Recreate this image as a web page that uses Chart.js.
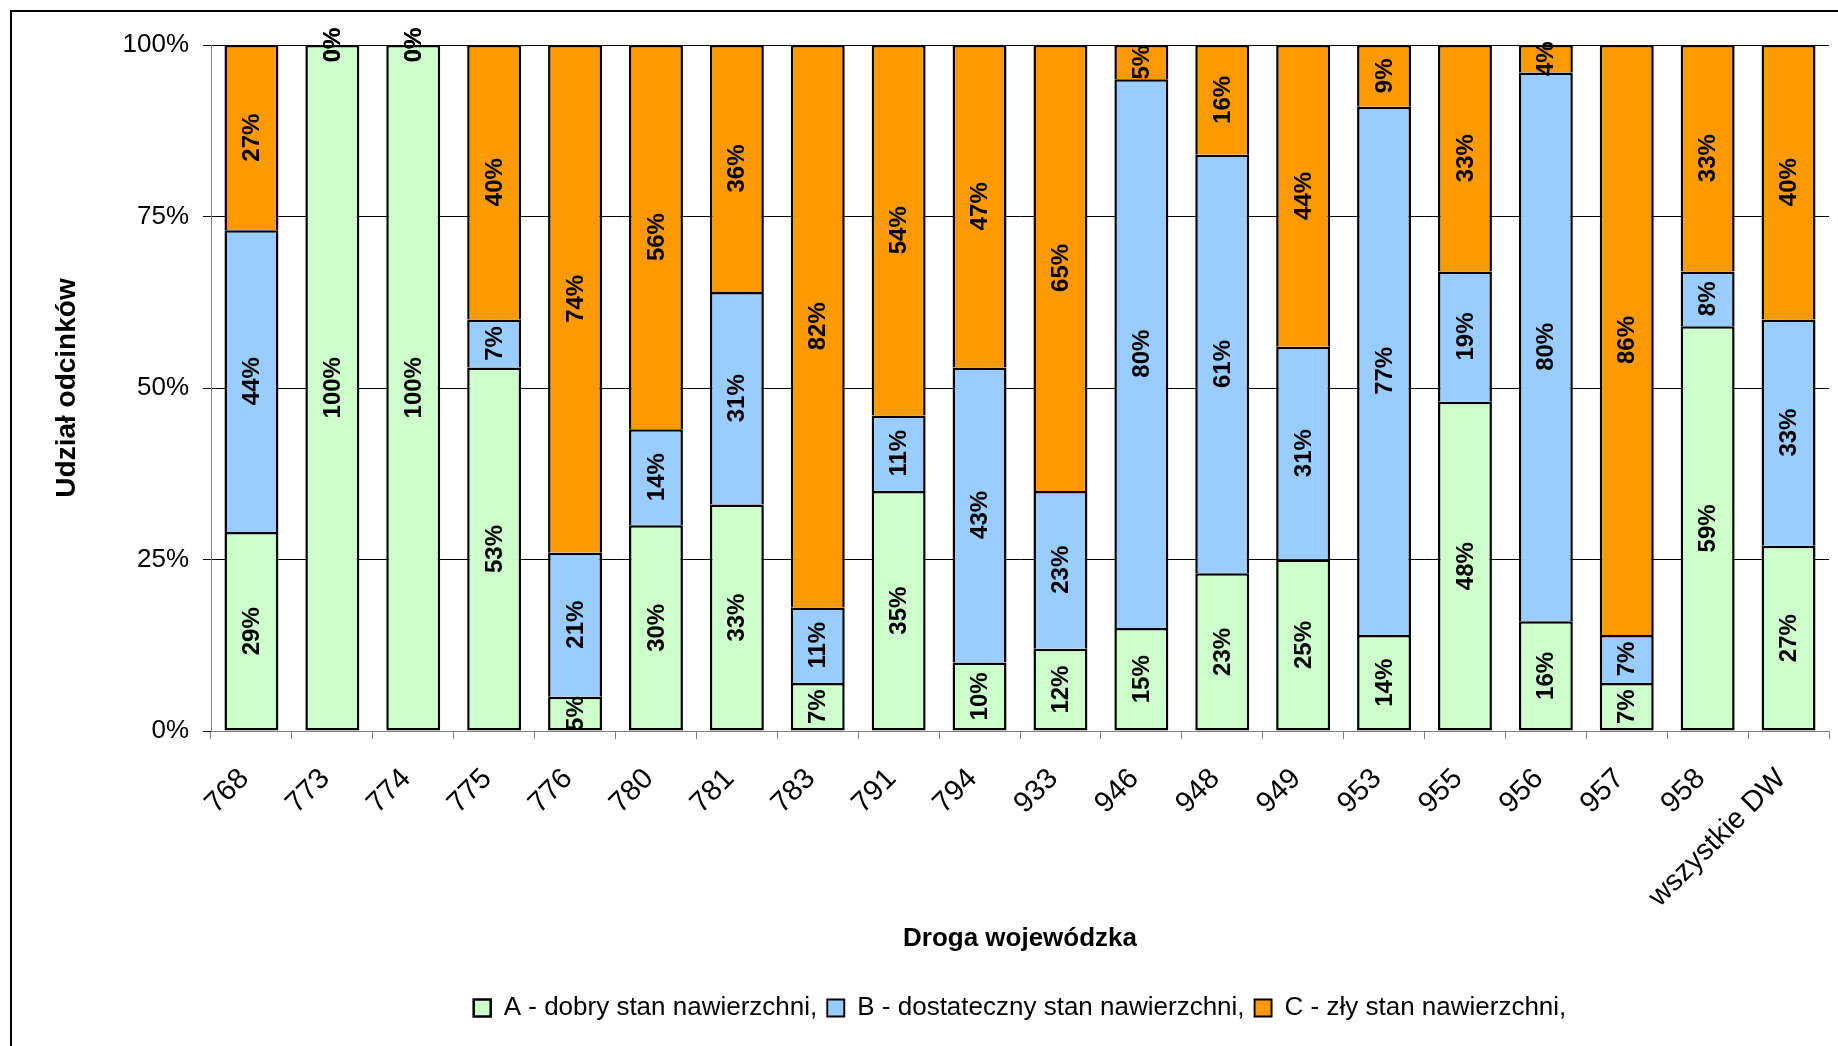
<!DOCTYPE html>
<html lang="pl">
<head>
<meta charset="utf-8">
<title>Udział odcinków według stanu nawierzchni</title>
<script src="https://cdn.jsdelivr.net/npm/chart.js@4/dist/chart.umd.min.js"></script>
<style>
  html, body { margin: 0; padding: 0; background: #fff; overflow: hidden; }
  #wrap { position: relative; width: 1838px; height: 1046px; }
  #chart { position: absolute; left: 0; top: 0; }
  #frame { position: absolute; left: 10px; top: 10px; width: 1900px; height: 1100px;
           border-left: 2px solid #000; border-top: 2px solid #000; pointer-events: none; }
</style>
</head>
<body>
<div id="wrap">
  <canvas id="chart" width="1838" height="1046"></canvas>
  <div id="frame"></div>
</div>
<script>
// Drogi wojewódzkie
const roads = ['768', '773', '774', '775', '776', '780', '781', '783', '791', '794',
               '933', '946', '948', '949', '953', '955', '956', '957', '958', 'wszystkie DW'];

// Udział odcinków [%] w poszczególnych klasach stanu nawierzchni
const goodShare = [29, 100, 100, 53,  5, 30, 33,  7, 35, 10, 12, 15, 23, 25, 14, 48, 16,  7, 59, 27];
const fairShare = [44,   0,   0,  7, 21, 14, 31, 11, 11, 43, 23, 80, 61, 31, 77, 19, 80,  7,  8, 33];
const poorShare = [27,   0,   0, 40, 74, 56, 36, 82, 54, 47, 65,  5, 16, 44,  9, 33,  4, 86, 33, 40];

const seriesNames = ['A - dobry stan nawierzchni,', 'B - dostateczny stan nawierzchni,', 'C - zły stan nawierzchni,'];

// Podziałka osi Y
const yTickValues = [0, 25, 50, 75, 100];
const yTickLabels = ['0%', '25%', '50%', '75%', '100%'];

const FONT = "'Liberation Sans', Arial, Helvetica, sans-serif";
Chart.defaults.font.family = FONT;
Chart.defaults.color = '#000';

// Etykiety wartości wpisane pionowo w środek każdego segmentu słupka
const segmentLabels = {
  id: 'segmentLabels',
  afterDatasetsDraw(chart) {
    const ctx = chart.ctx;
    ctx.save();
    ctx.font = 'bold 24px ' + FONT;
    ctx.fillStyle = '#000';
    ctx.textAlign = 'center';
    ctx.textBaseline = 'middle';
    chart.data.datasets.forEach((ds, i) => {
      const meta = chart.getDatasetMeta(i);
      meta.data.forEach((bar, j) => {
        const v = ds.data[j];
        const cy = (bar.y + bar.base) / 2;
        ctx.save();
        ctx.translate(bar.x, cy);
        ctx.rotate(-Math.PI / 2);
        ctx.fillText(v + '%', 0, 1);
        ctx.restore();
      });
    });
    ctx.restore();
  }
};

const outline = (bottom) => ({ top: 2.5, right: 2.5, bottom: bottom, left: 2.5 });

new Chart(document.getElementById('chart'), {
  type: 'bar',
  data: {
    labels: roads,
    datasets: [
      { label: seriesNames[0], data: goodShare, backgroundColor: '#CCFFCC', borderColor: '#000',
        borderWidth: outline(2.5), borderSkipped: false },
      { label: seriesNames[1], data: fairShare, backgroundColor: '#99CCFF', borderColor: '#000',
        borderWidth: outline(0), borderSkipped: false },
      { label: seriesNames[2], data: poorShare, backgroundColor: '#FF9900', borderColor: '#000',
        borderWidth: outline(0), borderSkipped: false }
    ]
  },
  options: {
    responsive: false,
    animation: false,
    layout: { padding: { left: 0, top: 45, right: 9, bottom: 15 } },
    datasets: { bar: { barPercentage: 0.667, categoryPercentage: 1 } },
    plugins: {
      tooltip: { enabled: false },
      legend: {
        position: 'bottom',
        fullSize: false,
        labels: { font: { size: 26 }, color: '#000', boxWidth: 17, boxHeight: 17, padding: 10 }
      }
    },
    scales: {
      x: {
        stacked: true,
        grid: { display: true, drawOnChartArea: false, offset: true, tickLength: 8, color: '#808080', lineWidth: 1 },
        border: { display: true, color: '#808080', width: 1 },
        ticks: { font: { size: 29 }, color: '#000', minRotation: 45, maxRotation: 45, padding: 23,
                 labelOffset: -7, autoSkip: false },
        title: { display: true, text: 'Droga wojewódzka', color: '#000',
                 font: { size: 26, weight: 'bold' }, padding: { top: 0, bottom: 31 } },
        afterFit(scale) { scale.height = 254; }
      },
      y: {
        stacked: true,
        min: 0,
        max: 100,
        afterBuildTicks(scale) { scale.ticks = yTickValues.map(v => ({ value: v })); },
        grid: { color: '#000', lineWidth: 1, tickLength: 8 },
        border: { display: true, color: '#808080', width: 1 },
        ticks: { font: { size: 26 }, color: '#000', padding: 14,
                 callback: (v) => yTickLabels[yTickValues.indexOf(v)] },
        title: { display: true, text: 'Udział odcinków', color: '#000',
                 font: { size: 28, weight: 'bold' }, padding: { top: 50 } },
        afterFit(scale) { scale.width = 211; }
      }
    }
  },
  plugins: [segmentLabels]
});
</script>
</body>
</html>
